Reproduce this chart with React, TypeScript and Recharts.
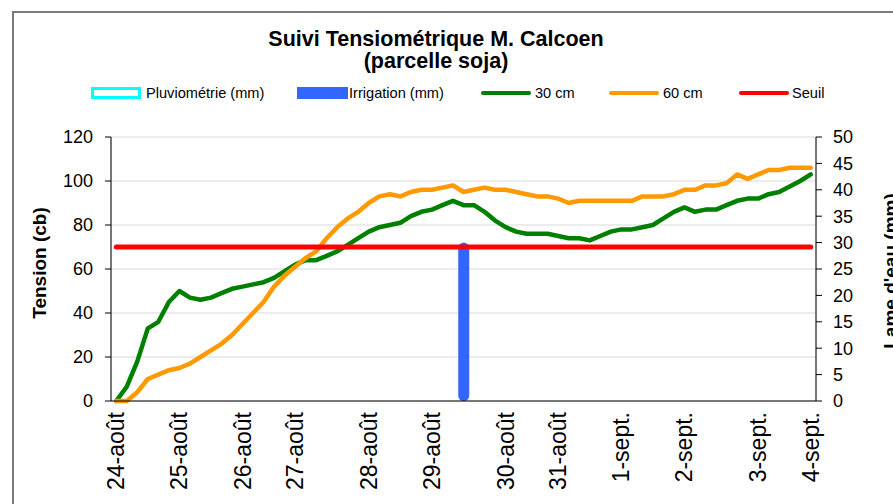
import React from 'react';
import { ComposedChart, Line, Bar, XAxis, YAxis, CartesianGrid, ReferenceLine } from 'recharts';

// relevés tensiométriques (cb), un point par relevé
const tension30 = [
  0, 6.5, 18, 33, 36, 45, 50, 47, 46, 47, 49, 51, 52, 53, 54, 56, 59,
  62, 64, 64, 66, 68, 71, 74, 77, 79, 80, 81, 84, 86, 87, 89, 91,
  89, 89, 86, 82, 79, 77, 76, 76, 76, 75, 74, 74, 73, 75, 77, 78,
  78, 79, 80, 83, 86, 88, 86, 87, 87, 89, 91, 92, 92, 94, 95, 97.5, 100, 103,
];
const tension60 = [
  0, 0, 4, 10, 12, 14, 15, 17, 20, 23, 26, 30, 35, 40, 45, 52, 57,
  61, 65, 68, 74, 79, 83, 86, 90, 93, 94, 93, 95, 96, 96, 97, 98,
  95, 96, 97, 96, 96, 95, 94, 93, 93, 92, 90, 91, 91, 91, 91, 91,
  91, 93, 93, 93, 94, 96, 96, 98, 98, 99, 103, 101, 103, 105, 105, 106, 106, 106,
];
const SEUIL = 70;

// apports d'eau (mm) - pas de pluie sur la période
const irrigationIdx = [33];
const irrigationMm = [30];

const dateLabels = ['24-août', '25-août', '26-août', '27-août', '28-août', '29-août', '30-août', '31-août', '1-sept.', '2-sept.', '3-sept.', '4-sept.'];
const labelIdx = [0, 6, 12, 17, 24, 30, 37, 42, 48, 54, 61, 66];
const gridTicks = [-0.5, 4.5, 9.5, 14.5, 19.5, 24.5, 29.5, 34.5, 39.5, 44.5, 49.5, 54.5, 59.5, 64.5];
const leftTicks = [0, 20, 40, 60, 80, 100, 120];
const rightTicks = [0, 5, 10, 15, 20, 25, 30, 35, 40, 45, 50];

const data = tension30.map((v, i) => ({
  i,
  t30: v,
  t60: tension60[i],
  irrig: irrigationIdx.includes(i) ? irrigationMm[irrigationIdx.indexOf(i)] : null,
}));
const last = tension30.length - 1;

const FONT = '"Liberation Sans", Arial, sans-serif';
const BAR_W = 11;

const DateTick = (props: any) => {
  const { x, y, payload } = props;
  const k = labelIdx.indexOf(payload.value);
  const ty = y + 10;
  return (
    <text x={x} y={ty} transform={`rotate(-90 ${x} ${ty})`} textAnchor="end" dominantBaseline="central"
      fontSize={23} fontFamily={FONT} fill="#000">
      {dateLabels[k]}
    </text>
  );
};

// barre centrée sur la position calculée par Recharts, largeur fixe
const IrrigBar = (props: any) => {
  const { x, y, width, height, fill } = props;
  if (!height) return null;
  const cx = x + width / 2;
  return <rect x={cx - BAR_W / 2} y={y} width={BAR_W} height={height} rx={BAR_W / 2} fill={fill} />;
};

const legendItems = [
  { label: 'Pluviométrie (mm)', kind: 'box', color: '#00FFFF', left: 91, gap: 5 },
  { label: 'Irrigation (mm)', kind: 'fill', color: '#3366FF', left: 297, gap: 1 },
  { label: '30 cm', kind: 'line', color: '#008000', left: 481, gap: 4 },
  { label: '60 cm', kind: 'line', color: '#FF9900', left: 609, gap: 4 },
  { label: 'Seuil', kind: 'line', color: '#FF0000', left: 739, gap: 3 },
];

const Swatch = ({ kind, color }: { kind: string; color: string }) => {
  if (kind === 'box')
    return <div style={{ width: 50, height: 12, boxSizing: 'border-box', border: `3px solid ${color}`, background: '#fff' }} />;
  if (kind === 'fill') return <div style={{ width: 51, height: 12, background: color }} />;
  return <div style={{ width: 50, height: 4, borderRadius: 2, background: color }} />;
};

export default function App() {
  return (
    <div style={{ position: 'absolute', left: 0, top: 0, width: 893, height: 504, overflow: 'hidden', background: '#fff', fontFamily: FONT }}>
      <div style={{ position: 'absolute', left: 12, top: 11, width: 950, height: 560, border: '2px solid #7a7a7a' }} />
      <div style={{ position: 'absolute', left: 0, top: 28, width: 872, textAlign: 'center', fontWeight: 'bold', fontSize: 21.5, lineHeight: '22px' }}>
        Suivi Tensiométrique M. Calcoen
        <br />
        (parcelle soja)
      </div>
      {legendItems.map((it) => (
        <div key={it.label} style={{ position: 'absolute', left: it.left, top: 86, display: 'flex', alignItems: 'center', gap: it.gap, fontSize: 14.6, lineHeight: '14px', whiteSpace: 'nowrap' }}>
          <Swatch kind={it.kind} color={it.color} />
          <span>{it.label}</span>
        </div>
      ))}
      <div style={{ position: 'absolute', left: 40 - 100, top: 263 - 12, width: 200, height: 24, lineHeight: '24px', textAlign: 'center', fontWeight: 'bold', fontSize: 19, transform: 'rotate(-90deg)' }}>
        Tension (cb)
      </div>
      <div style={{ position: 'absolute', left: 891 - 100, top: 271 - 12, width: 200, height: 24, lineHeight: '24px', textAlign: 'center', fontWeight: 'bold', fontSize: 19, transform: 'rotate(-90deg)' }}>
        Lame d'eau (mm)
      </div>
      <div style={{ position: 'absolute', left: 0, top: 0 }}>
        <ComposedChart width={893} height={504} data={data} barCategoryGap={0} barGap={0}
          margin={{ top: 137, right: 17, bottom: 13, left: 51 }}>
          <CartesianGrid xAxisId="grid" yAxisId="left" stroke="#d9d9d9" />
          <XAxis xAxisId="grid" type="number" dataKey="i" domain={[-0.5, last + 0.5]} ticks={gridTicks} interval={0}
            tick={false} tickSize={7} tickLine={{ stroke: '#808080' }} axisLine={{ stroke: '#000' }} height={1} />
          <XAxis xAxisId="labels" type="number" dataKey="i" domain={[-0.5, last + 0.5]} ticks={labelIdx} interval={0}
            tick={<DateTick />} tickSize={0} tickMargin={0} tickLine={false} axisLine={false} height={89} />
          <YAxis yAxisId="left" domain={[0, 120]} ticks={leftTicks} interval={0} width={60} tickSize={6} tickMargin={12}
            tick={{ fontSize: 18, fill: '#000', fontFamily: FONT }} tickLine={{ stroke: '#000' }} axisLine={{ stroke: '#000' }} />
          <YAxis yAxisId="right" orientation="right" domain={[0, 50]} ticks={rightTicks} interval={0} width={60} tickSize={6} tickMargin={11}
            tick={{ fontSize: 18, fill: '#000', fontFamily: FONT }} tickLine={{ stroke: '#000' }} axisLine={{ stroke: '#000' }} />
          <Line xAxisId="grid" yAxisId="left" dataKey="t30" stroke="#008000" strokeWidth={4.5} dot={false}
            strokeLinejoin="round" strokeLinecap="round" isAnimationActive={false} />
          <Line xAxisId="grid" yAxisId="left" dataKey="t60" stroke="#FF9900" strokeWidth={4.5} dot={false}
            strokeLinejoin="round" strokeLinecap="round" isAnimationActive={false} />
          <ReferenceLine xAxisId="grid" yAxisId="left" segment={[{ x: 0, y: SEUIL }, { x: last, y: SEUIL }]}
            stroke="#FF0000" strokeWidth={5} strokeLinecap="round" />
          <Bar xAxisId="grid" yAxisId="right" dataKey="irrig" fill="#3366FF" shape={<IrrigBar />} isAnimationActive={false} />
        </ComposedChart>
      </div>
    </div>
  );
}
